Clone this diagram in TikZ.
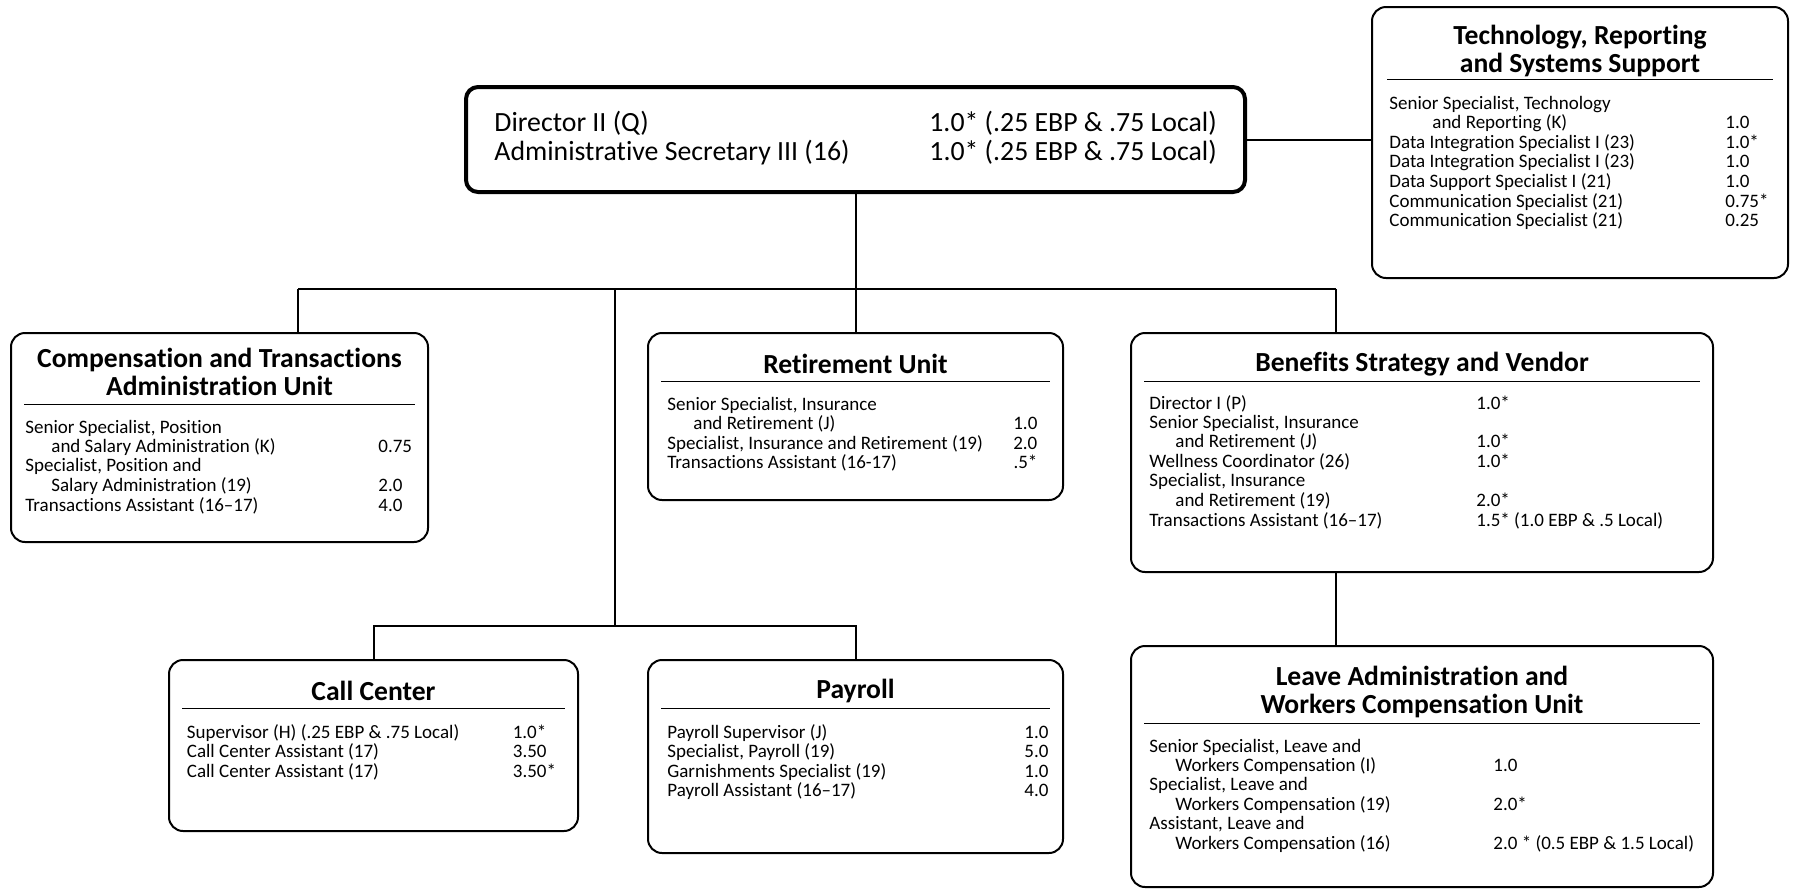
\documentclass[tikz,border=0pt]{standalone}
\usepackage{fontspec}
\setmainfont{Carlito}[Ligatures=NoCommon]
\usepackage{array}
\usetikzlibrary{positioning,calc}

\begin{document}
\begin{tikzpicture}[
    x=0.5pt, y=-0.5pt,
    unit/.style={rectangle, draw=black, line width=1pt, rounded corners=7pt, inner sep=0pt},
    topunit/.style={unit, line width=2pt, rounded corners=6pt},
    head/.style={font=\fontsize{13.8}{14.3}\selectfont\bfseries, align=center, inner sep=0pt},
    items/.style={font=\fontsize{9.5}{9.6}\selectfont, anchor=base west, inner sep=0pt},
    rule/.style={line width=0.5pt},
    link/.style={line width=1pt}
]
\useasboundingbox (0,0) rectangle (1794,890);

% Director
\node[topunit, minimum width=389.5pt, minimum height=52.5pt] (dir) at (855.5,139.5) {};
\node[font=\fontsize{13.9}{14.75}\selectfont, anchor=base west, inner sep=0pt] (dirtext) at (494,131)
  {\begin{tabular}[t]{@{}p{217.5pt}@{}l@{}}
   Director II (Q) & 1.0* (.25 EBP \& .75 Local)\\
   Administrative Secretary III (16) & 1.0* (.25 EBP \& .75 Local)
   \end{tabular}};

% Technology, Reporting and Systems Support
\node[unit, minimum width=208pt, minimum height=135.5pt] (tech) at (1580,142.5) {};
\node[head] (techhead) at (1580,51) {Technology, Reporting\\and Systems Support};
\draw[rule] ($(tech.north west)+(16,73)$) -- ($(tech.north east)+(-16,73)$);
\node[items] (techitems) at (1389,109)
  {\begin{tabular}[t]{@{}p{168pt}@{}l@{}}
   Senior Specialist, Technology & \\
   \hspace{21.5pt}and Reporting (K) & 1.0\\
   Data Integration Specialist I (23) & 1.0*\\
   Data Integration Specialist I (23) & 1.0\\
   Data Support Specialist I (21) & 1.0\\
   Communication Specialist (21) & 0.75*\\
   Communication Specialist (21) & 0.25
   \end{tabular}};

% Compensation and Transactions Administration Unit
\node[unit, minimum width=208.5pt, minimum height=104.5pt] (comp) at (219.5,437.5) {};
\node[head] (comphead) at (219.5,372) {Compensation and Transactions\\Administration Unit};
\draw[rule] ($(comp.north west)+(14,72)$) -- ($(comp.north east)+(-14,72)$);
\node[items] (compitems) at (25,433)
  {\begin{tabular}[t]{@{}p{176.5pt}@{}l@{}}
   Senior Specialist, Position & \\
   \hspace{13pt}and Salary Administration (K) & 0.75\\
   Specialist, Position and & \\
   \hspace{13pt}Salary Administration (19) & 2.0\\
   Transactions Assistant (16–17) & 4.0
   \end{tabular}};

% Retirement Unit
\node[unit, minimum width=207.5pt, minimum height=83.5pt] (ret) at (855.5,416.5) {};
\node[head] (rethead) at (855.5,364) {Retirement Unit};
\draw[rule] ($(ret.north west)+(14,49)$) -- ($(ret.north east)+(-14,49)$);
\node[items] (retitems) at (667,410)
  {\begin{tabular}[t]{@{}p{165pt}@{}>{\raggedleft\arraybackslash}p{20pt}@{}}
   Senior Specialist, Insurance & \\
   \hspace{13pt}and Retirement (J) & 1.0\\
   Specialist, Insurance and Retirement (19) & 2.0\\
   Transactions Assistant (16-17) & .5*
   \end{tabular}};

% Benefits Strategy and Vendor
\node[unit, minimum width=291pt, minimum height=119.5pt] (ben) at (1422,452.5) {};
\node[head] (benhead) at (1422,364) {Benefits Strategy and Vendor};
\draw[rule] ($(ben.north west)+(14,49)$) -- ($(ben.north east)+(-14,49)$);
\node[items] (benitems) at (1149,409)
  {\begin{tabular}[t]{@{}p{163.5pt}@{}l@{}}
   Director I (P) & 1.0*\\
   Senior Specialist, Insurance & \\
   \hspace{13pt}and Retirement (J) & 1.0*\\
   Wellness Coordinator (26) & 1.0*\\
   Specialist, Insurance & \\
   \hspace{13pt}and Retirement (19) & 2.0*\\
   Transactions Assistant (16–17) & 1.5* (1.0 EBP \& .5 Local)
   \end{tabular}};

% Call Center
\node[unit, minimum width=204.5pt, minimum height=85.5pt] (call) at (373.5,745.5) {};
\node[head] (callhead) at (373.5,691) {Call Center};
\draw[rule] ($(call.north west)+(14,49)$) -- ($(call.north east)+(-14,49)$);
\node[items] (callitems) at (186.5,738)
  {\begin{tabular}[t]{@{}p{163pt}@{}l@{}}
   Supervisor (H) (.25 EBP \& .75 Local) & 1.0*\\
   Call Center Assistant (17) & 3.50\\
   Call Center Assistant (17) & 3.50*
   \end{tabular}};

% Payroll
\node[unit, minimum width=207.5pt, minimum height=96.5pt] (pay) at (855.5,756.5) {};
\node[head] (payhead) at (855.5,691) {Payroll};
\draw[rule] ($(pay.north west)+(14,49)$) -- ($(pay.north east)+(-14,49)$);
\node[items] (payitems) at (667,738)
  {\begin{tabular}[t]{@{}p{178.5pt}@{}l@{}}
   Payroll Supervisor (J) & 1.0\\
   Specialist, Payroll (19) & 5.0\\
   Garnishments Specialist (19) & 1.0\\
   Payroll Assistant (16–17) & 4.0
   \end{tabular}};

% Leave Administration and Workers Compensation Unit
\node[unit, minimum width=291pt, minimum height=120.5pt] (leave) at (1422,766.5) {};
\node[head] (leavehead) at (1422,692) {Leave Administration and\\Workers Compensation Unit};
\draw[rule] ($(leave.north west)+(14,78)$) -- ($(leave.north east)+(-14,78)$);
\node[items] (leaveitems) at (1149,752)
  {\begin{tabular}[t]{@{}p{172pt}@{}l@{}}
   Senior Specialist, Leave and & \\
   \hspace{13pt}Workers Compensation (I) & 1.0\\
   Specialist, Leave and & \\
   \hspace{13pt}Workers Compensation (19) & 2.0*\\
   Assistant, Leave and & \\
   \hspace{13pt}Workers Compensation (16) & 2.0 * (0.5 EBP \& 1.5 Local)
   \end{tabular}};

% Connections
\coordinate (busleft) at (298,289);
\coordinate (busmid) at (615,289);
\coordinate (busright) at (1336,289);
\coordinate (lowbus) at (615,626);

\draw[link] (dir.east) -- (dir.east -| tech.west);
\draw[link] (dir.south) -- (ret.north);
\draw[link] (busleft) -- (busright);
\draw[link] (busleft) -- (busleft |- comp.north);
\draw[link] (busright) -- (busright |- ben.north);
\draw[link] (busmid) -- (lowbus);
\draw[link] (call.north) -- (call.north |- lowbus) -- (pay.north |- lowbus) -- (pay.north);
\draw[link] (busright |- ben.south) -- (busright |- leave.north);

\end{tikzpicture}
\end{document}
